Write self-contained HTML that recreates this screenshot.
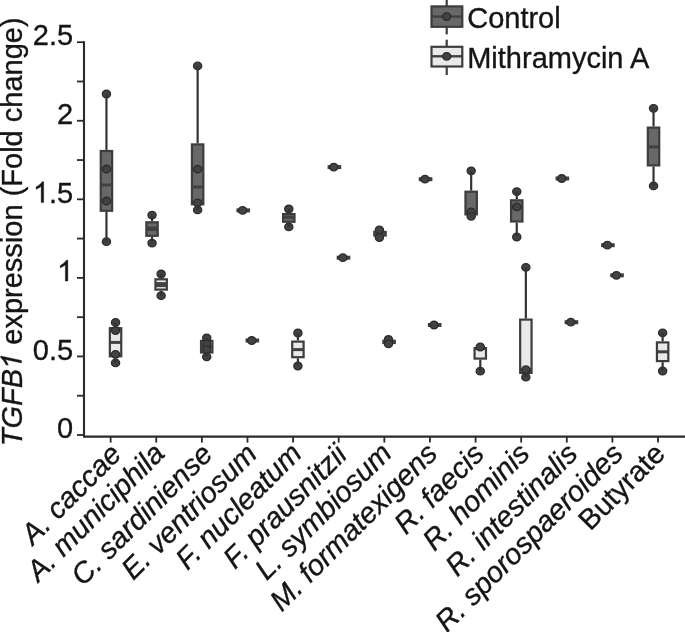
<!DOCTYPE html>
<html><head><meta charset="utf-8"><style>
html,body{margin:0;padding:0;background:#fff;}
svg{display:block;filter:blur(0.35px);}
text{font-family:"Liberation Sans",sans-serif;font-size:29px;fill:#151515;stroke:#151515;stroke-width:0.35px;}
</style></head><body>
<svg width="685" height="632" viewBox="0 0 685 632">
<rect width="685" height="632" fill="#fff"/>
<line x1="84" y1="41.2" x2="84" y2="436" stroke="#2a2a2a" stroke-width="2.1"/>
<line x1="83" y1="436.6" x2="685" y2="436.6" stroke="#2a2a2a" stroke-width="2.1"/>
<line x1="77" y1="435" x2="84" y2="435" stroke="#2a2a2a" stroke-width="1.8"/>
<line x1="77" y1="395.72" x2="84" y2="395.72" stroke="#2a2a2a" stroke-width="1.8"/>
<line x1="77" y1="356.44" x2="84" y2="356.44" stroke="#2a2a2a" stroke-width="1.8"/>
<line x1="77" y1="317.16" x2="84" y2="317.16" stroke="#2a2a2a" stroke-width="1.8"/>
<line x1="77" y1="277.88" x2="84" y2="277.88" stroke="#2a2a2a" stroke-width="1.8"/>
<line x1="77" y1="238.6" x2="84" y2="238.6" stroke="#2a2a2a" stroke-width="1.8"/>
<line x1="77" y1="199.32" x2="84" y2="199.32" stroke="#2a2a2a" stroke-width="1.8"/>
<line x1="77" y1="160.04" x2="84" y2="160.04" stroke="#2a2a2a" stroke-width="1.8"/>
<line x1="77" y1="120.76" x2="84" y2="120.76" stroke="#2a2a2a" stroke-width="1.8"/>
<line x1="77" y1="81.48" x2="84" y2="81.48" stroke="#2a2a2a" stroke-width="1.8"/>
<line x1="77" y1="42.2" x2="84" y2="42.2" stroke="#2a2a2a" stroke-width="1.8"/>
<line x1="110.64" y1="436.6" x2="110.64" y2="442.6" stroke="#2a2a2a" stroke-width="1.8"/>
<line x1="156.26" y1="436.6" x2="156.26" y2="442.6" stroke="#2a2a2a" stroke-width="1.8"/>
<line x1="201.87" y1="436.6" x2="201.87" y2="442.6" stroke="#2a2a2a" stroke-width="1.8"/>
<line x1="247.49" y1="436.6" x2="247.49" y2="442.6" stroke="#2a2a2a" stroke-width="1.8"/>
<line x1="293.1" y1="436.6" x2="293.1" y2="442.6" stroke="#2a2a2a" stroke-width="1.8"/>
<line x1="338.72" y1="436.6" x2="338.72" y2="442.6" stroke="#2a2a2a" stroke-width="1.8"/>
<line x1="384.34" y1="436.6" x2="384.34" y2="442.6" stroke="#2a2a2a" stroke-width="1.8"/>
<line x1="429.95" y1="436.6" x2="429.95" y2="442.6" stroke="#2a2a2a" stroke-width="1.8"/>
<line x1="475.57" y1="436.6" x2="475.57" y2="442.6" stroke="#2a2a2a" stroke-width="1.8"/>
<line x1="521.18" y1="436.6" x2="521.18" y2="442.6" stroke="#2a2a2a" stroke-width="1.8"/>
<line x1="566.8" y1="436.6" x2="566.8" y2="442.6" stroke="#2a2a2a" stroke-width="1.8"/>
<line x1="612.42" y1="436.6" x2="612.42" y2="442.6" stroke="#2a2a2a" stroke-width="1.8"/>
<line x1="658.03" y1="436.6" x2="658.03" y2="442.6" stroke="#2a2a2a" stroke-width="1.8"/>
<rect x="100.75" y="151" width="11.4" height="59.8" fill="#686868" stroke="#3d3d3d" stroke-width="2.2"/>
<line x1="100.75" y1="185" x2="112.15" y2="185" stroke="#414141" stroke-width="3"/>
<ellipse cx="106.45" cy="94" rx="4.1" ry="3.75" fill="#424242" stroke="#2c2c2c" stroke-width="1.3"/>
<ellipse cx="106.45" cy="169" rx="4.1" ry="3.75" fill="#424242" stroke="#2c2c2c" stroke-width="1.3"/>
<ellipse cx="106.45" cy="201" rx="4.1" ry="3.75" fill="#424242" stroke="#2c2c2c" stroke-width="1.3"/>
<ellipse cx="106.45" cy="241.7" rx="4.1" ry="3.75" fill="#424242" stroke="#2c2c2c" stroke-width="1.3"/>
<line x1="106.45" y1="94" x2="106.45" y2="149.9" stroke="#333333" stroke-width="2.2"/>
<line x1="106.45" y1="211.9" x2="106.45" y2="241.7" stroke="#333333" stroke-width="2.2"/>
<rect x="109.85" y="328.2" width="11.4" height="28.1" fill="#e9e9e9" stroke="#3d3d3d" stroke-width="2.2"/>
<line x1="109.85" y1="342.4" x2="121.25" y2="342.4" stroke="#414141" stroke-width="3"/>
<ellipse cx="115.55" cy="322.4" rx="4.1" ry="3.75" fill="#424242" stroke="#2c2c2c" stroke-width="1.3"/>
<ellipse cx="115.55" cy="330.5" rx="4.1" ry="3.75" fill="#424242" stroke="#2c2c2c" stroke-width="1.3"/>
<ellipse cx="115.55" cy="354.3" rx="4.1" ry="3.75" fill="#424242" stroke="#2c2c2c" stroke-width="1.3"/>
<ellipse cx="115.55" cy="362.9" rx="4.1" ry="3.75" fill="#424242" stroke="#2c2c2c" stroke-width="1.3"/>
<line x1="115.55" y1="322.4" x2="115.55" y2="327.1" stroke="#333333" stroke-width="2.2"/>
<line x1="115.55" y1="357.4" x2="115.55" y2="362.9" stroke="#333333" stroke-width="2.2"/>
<rect x="146.34" y="222.3" width="11.4" height="13.5" fill="#686868" stroke="#3d3d3d" stroke-width="2.2"/>
<line x1="146.34" y1="228.8" x2="157.74" y2="228.8" stroke="#414141" stroke-width="4.5"/>
<ellipse cx="152.04" cy="215.1" rx="4.1" ry="3.75" fill="#424242" stroke="#2c2c2c" stroke-width="1.3"/>
<ellipse cx="152.04" cy="243.1" rx="4.1" ry="3.75" fill="#424242" stroke="#2c2c2c" stroke-width="1.3"/>
<line x1="152.04" y1="215.1" x2="152.04" y2="221.2" stroke="#333333" stroke-width="2.2"/>
<line x1="152.04" y1="236.9" x2="152.04" y2="243.1" stroke="#333333" stroke-width="2.2"/>
<rect x="155.44" y="279.3" width="11.4" height="10.3" fill="#e9e9e9" stroke="#3d3d3d" stroke-width="2.2"/>
<line x1="155.44" y1="284.6" x2="166.84" y2="284.6" stroke="#414141" stroke-width="5"/>
<ellipse cx="161.14" cy="274" rx="4.1" ry="3.75" fill="#424242" stroke="#2c2c2c" stroke-width="1.3"/>
<ellipse cx="161.14" cy="295.7" rx="4.1" ry="3.75" fill="#424242" stroke="#2c2c2c" stroke-width="1.3"/>
<line x1="161.14" y1="274" x2="161.14" y2="278.2" stroke="#333333" stroke-width="2.2"/>
<line x1="161.14" y1="290.7" x2="161.14" y2="295.7" stroke="#333333" stroke-width="2.2"/>
<rect x="191.93" y="144.4" width="11.4" height="59.9" fill="#686868" stroke="#3d3d3d" stroke-width="2.2"/>
<line x1="191.93" y1="187" x2="203.33" y2="187" stroke="#414141" stroke-width="3"/>
<ellipse cx="197.63" cy="65.9" rx="4.1" ry="3.75" fill="#424242" stroke="#2c2c2c" stroke-width="1.3"/>
<ellipse cx="197.63" cy="169.2" rx="4.1" ry="3.75" fill="#424242" stroke="#2c2c2c" stroke-width="1.3"/>
<ellipse cx="197.63" cy="202.8" rx="4.1" ry="3.75" fill="#424242" stroke="#2c2c2c" stroke-width="1.3"/>
<ellipse cx="197.63" cy="209.9" rx="4.1" ry="3.75" fill="#424242" stroke="#2c2c2c" stroke-width="1.3"/>
<line x1="197.63" y1="65.9" x2="197.63" y2="143.3" stroke="#333333" stroke-width="2.2"/>
<line x1="197.63" y1="205.4" x2="197.63" y2="209.9" stroke="#333333" stroke-width="2.2"/>
<rect x="201.03" y="340.9" width="11.4" height="11.6" fill="#e9e9e9" stroke="#3d3d3d" stroke-width="2.2"/>
<line x1="201.03" y1="346.9" x2="212.43" y2="346.9" stroke="#414141" stroke-width="3"/>
<ellipse cx="206.73" cy="338" rx="4.1" ry="3.75" fill="#424242" stroke="#2c2c2c" stroke-width="1.3"/>
<ellipse cx="206.73" cy="343.8" rx="4.1" ry="3.75" fill="#424242" stroke="#2c2c2c" stroke-width="1.3"/>
<ellipse cx="206.73" cy="349.7" rx="4.1" ry="3.75" fill="#424242" stroke="#2c2c2c" stroke-width="1.3"/>
<ellipse cx="206.73" cy="356.8" rx="4.1" ry="3.75" fill="#424242" stroke="#2c2c2c" stroke-width="1.3"/>
<line x1="206.73" y1="338" x2="206.73" y2="339.8" stroke="#333333" stroke-width="2.2"/>
<line x1="206.73" y1="353.6" x2="206.73" y2="356.8" stroke="#333333" stroke-width="2.2"/>
<rect x="237.52" y="209.5" width="11.4" height="1.8" fill="#686868" stroke="#3d3d3d" stroke-width="2.2"/>
<line x1="237.52" y1="210.4" x2="248.92" y2="210.4" stroke="#414141" stroke-width="2"/>
<ellipse cx="242.62" cy="210.4" rx="4.1" ry="3.75" fill="#424242" stroke="#2c2c2c" stroke-width="1.3"/>
<rect x="246.62" y="339.6" width="11.4" height="1.8" fill="#e9e9e9" stroke="#3d3d3d" stroke-width="2.2"/>
<line x1="246.62" y1="340.5" x2="258.02" y2="340.5" stroke="#414141" stroke-width="2"/>
<ellipse cx="251.72" cy="340.5" rx="4.1" ry="3.75" fill="#424242" stroke="#2c2c2c" stroke-width="1.3"/>
<rect x="283.11" y="214.1" width="11.4" height="7.7" fill="#686868" stroke="#3d3d3d" stroke-width="2.2"/>
<line x1="283.11" y1="217.3" x2="294.51" y2="217.3" stroke="#414141" stroke-width="3"/>
<ellipse cx="288.81" cy="209" rx="4.1" ry="3.75" fill="#424242" stroke="#2c2c2c" stroke-width="1.3"/>
<ellipse cx="288.81" cy="226.9" rx="4.1" ry="3.75" fill="#424242" stroke="#2c2c2c" stroke-width="1.3"/>
<line x1="288.81" y1="209" x2="288.81" y2="213" stroke="#333333" stroke-width="2.2"/>
<line x1="288.81" y1="222.9" x2="288.81" y2="226.9" stroke="#333333" stroke-width="2.2"/>
<rect x="292.21" y="341.6" width="11.4" height="15.6" fill="#e9e9e9" stroke="#3d3d3d" stroke-width="2.2"/>
<line x1="292.21" y1="349.6" x2="303.61" y2="349.6" stroke="#414141" stroke-width="3"/>
<ellipse cx="297.91" cy="333" rx="4.1" ry="3.75" fill="#424242" stroke="#2c2c2c" stroke-width="1.3"/>
<ellipse cx="297.91" cy="366" rx="4.1" ry="3.75" fill="#424242" stroke="#2c2c2c" stroke-width="1.3"/>
<line x1="297.91" y1="333" x2="297.91" y2="340.5" stroke="#333333" stroke-width="2.2"/>
<line x1="297.91" y1="358.3" x2="297.91" y2="366" stroke="#333333" stroke-width="2.2"/>
<rect x="328.7" y="166.2" width="11.4" height="1.8" fill="#686868" stroke="#3d3d3d" stroke-width="2.2"/>
<line x1="328.7" y1="167.1" x2="340.1" y2="167.1" stroke="#414141" stroke-width="2"/>
<ellipse cx="333.8" cy="167.1" rx="4.1" ry="3.75" fill="#424242" stroke="#2c2c2c" stroke-width="1.3"/>
<rect x="337.8" y="256.8" width="11.4" height="1.8" fill="#e9e9e9" stroke="#3d3d3d" stroke-width="2.2"/>
<line x1="337.8" y1="257.7" x2="349.2" y2="257.7" stroke="#414141" stroke-width="2"/>
<ellipse cx="342.9" cy="257.7" rx="4.1" ry="3.75" fill="#424242" stroke="#2c2c2c" stroke-width="1.3"/>
<rect x="374.29" y="231.9" width="11.4" height="3.6" fill="#686868" stroke="#3d3d3d" stroke-width="2.2"/>
<line x1="374.29" y1="233.7" x2="385.69" y2="233.7" stroke="#414141" stroke-width="2"/>
<ellipse cx="379.39" cy="229.8" rx="4.1" ry="3.75" fill="#424242" stroke="#2c2c2c" stroke-width="1.3"/>
<ellipse cx="379.39" cy="237.6" rx="4.1" ry="3.75" fill="#424242" stroke="#2c2c2c" stroke-width="1.3"/>
<rect x="383.39" y="340.8" width="11.4" height="2.2" fill="#e9e9e9" stroke="#3d3d3d" stroke-width="2.2"/>
<line x1="383.39" y1="341.9" x2="394.79" y2="341.9" stroke="#414141" stroke-width="2"/>
<ellipse cx="388.49" cy="339.5" rx="4.1" ry="3.75" fill="#424242" stroke="#2c2c2c" stroke-width="1.3"/>
<ellipse cx="388.49" cy="343.8" rx="4.1" ry="3.75" fill="#424242" stroke="#2c2c2c" stroke-width="1.3"/>
<rect x="419.88" y="178.3" width="11.4" height="1.8" fill="#686868" stroke="#3d3d3d" stroke-width="2.2"/>
<line x1="419.88" y1="179.2" x2="431.28" y2="179.2" stroke="#414141" stroke-width="2"/>
<ellipse cx="424.98" cy="179.2" rx="4.1" ry="3.75" fill="#424242" stroke="#2c2c2c" stroke-width="1.3"/>
<rect x="428.98" y="324.1" width="11.4" height="1.8" fill="#e9e9e9" stroke="#3d3d3d" stroke-width="2.2"/>
<line x1="428.98" y1="325" x2="440.38" y2="325" stroke="#414141" stroke-width="2"/>
<ellipse cx="434.08" cy="325" rx="4.1" ry="3.75" fill="#424242" stroke="#2c2c2c" stroke-width="1.3"/>
<rect x="465.47" y="191.7" width="11.4" height="22.7" fill="#686868" stroke="#3d3d3d" stroke-width="2.2"/>
<line x1="465.47" y1="212" x2="476.87" y2="212" stroke="#414141" stroke-width="3"/>
<ellipse cx="471.17" cy="170.8" rx="4.1" ry="3.75" fill="#424242" stroke="#2c2c2c" stroke-width="1.3"/>
<ellipse cx="471.17" cy="211.9" rx="4.1" ry="3.75" fill="#424242" stroke="#2c2c2c" stroke-width="1.3"/>
<ellipse cx="471.17" cy="216.3" rx="4.1" ry="3.75" fill="#424242" stroke="#2c2c2c" stroke-width="1.3"/>
<line x1="471.17" y1="170.8" x2="471.17" y2="190.6" stroke="#333333" stroke-width="2.2"/>
<line x1="471.17" y1="215.5" x2="471.17" y2="216.3" stroke="#333333" stroke-width="2.2"/>
<rect x="474.57" y="348.1" width="11.4" height="10.5" fill="#e9e9e9" stroke="#3d3d3d" stroke-width="2.2"/>
<line x1="474.57" y1="348.5" x2="485.97" y2="348.5" stroke="#414141" stroke-width="3"/>
<ellipse cx="480.27" cy="347" rx="4.1" ry="3.75" fill="#424242" stroke="#2c2c2c" stroke-width="1.3"/>
<ellipse cx="480.27" cy="371.2" rx="4.1" ry="3.75" fill="#424242" stroke="#2c2c2c" stroke-width="1.3"/>
<line x1="480.27" y1="359.7" x2="480.27" y2="371.2" stroke="#333333" stroke-width="2.2"/>
<rect x="511.06" y="200.3" width="11.4" height="21.2" fill="#686868" stroke="#3d3d3d" stroke-width="2.2"/>
<line x1="511.06" y1="206.9" x2="522.46" y2="206.9" stroke="#414141" stroke-width="3"/>
<ellipse cx="516.76" cy="191.6" rx="4.1" ry="3.75" fill="#424242" stroke="#2c2c2c" stroke-width="1.3"/>
<ellipse cx="516.76" cy="206.9" rx="4.1" ry="3.75" fill="#424242" stroke="#2c2c2c" stroke-width="1.3"/>
<ellipse cx="516.76" cy="237" rx="4.1" ry="3.75" fill="#424242" stroke="#2c2c2c" stroke-width="1.3"/>
<line x1="516.76" y1="191.6" x2="516.76" y2="199.2" stroke="#333333" stroke-width="2.2"/>
<line x1="516.76" y1="222.6" x2="516.76" y2="237" stroke="#333333" stroke-width="2.2"/>
<rect x="520.16" y="319.6" width="11.4" height="53.3" fill="#e9e9e9" stroke="#3d3d3d" stroke-width="2.2"/>
<line x1="520.16" y1="370" x2="531.56" y2="370" stroke="#414141" stroke-width="3"/>
<ellipse cx="525.86" cy="267.3" rx="4.1" ry="3.75" fill="#424242" stroke="#2c2c2c" stroke-width="1.3"/>
<ellipse cx="525.86" cy="369.7" rx="4.1" ry="3.75" fill="#424242" stroke="#2c2c2c" stroke-width="1.3"/>
<ellipse cx="525.86" cy="377.2" rx="4.1" ry="3.75" fill="#424242" stroke="#2c2c2c" stroke-width="1.3"/>
<line x1="525.86" y1="267.3" x2="525.86" y2="318.5" stroke="#333333" stroke-width="2.2"/>
<line x1="525.86" y1="374" x2="525.86" y2="377.2" stroke="#333333" stroke-width="2.2"/>
<rect x="556.65" y="177.6" width="11.4" height="1.8" fill="#686868" stroke="#3d3d3d" stroke-width="2.2"/>
<line x1="556.65" y1="178.5" x2="568.05" y2="178.5" stroke="#414141" stroke-width="2"/>
<ellipse cx="561.75" cy="178.5" rx="4.1" ry="3.75" fill="#424242" stroke="#2c2c2c" stroke-width="1.3"/>
<rect x="565.75" y="321.3" width="11.4" height="1.8" fill="#e9e9e9" stroke="#3d3d3d" stroke-width="2.2"/>
<line x1="565.75" y1="322.2" x2="577.15" y2="322.2" stroke="#414141" stroke-width="2"/>
<ellipse cx="570.85" cy="322.2" rx="4.1" ry="3.75" fill="#424242" stroke="#2c2c2c" stroke-width="1.3"/>
<rect x="602.24" y="244.3" width="11.4" height="1.8" fill="#686868" stroke="#3d3d3d" stroke-width="2.2"/>
<line x1="602.24" y1="245.2" x2="613.64" y2="245.2" stroke="#414141" stroke-width="2"/>
<ellipse cx="607.34" cy="245.2" rx="4.1" ry="3.75" fill="#424242" stroke="#2c2c2c" stroke-width="1.3"/>
<rect x="611.34" y="274.4" width="11.4" height="1.8" fill="#e9e9e9" stroke="#3d3d3d" stroke-width="2.2"/>
<line x1="611.34" y1="275.3" x2="622.74" y2="275.3" stroke="#414141" stroke-width="2"/>
<ellipse cx="616.44" cy="275.3" rx="4.1" ry="3.75" fill="#424242" stroke="#2c2c2c" stroke-width="1.3"/>
<rect x="647.83" y="127.6" width="11.4" height="37.8" fill="#686868" stroke="#3d3d3d" stroke-width="2.2"/>
<line x1="647.83" y1="146.9" x2="659.23" y2="146.9" stroke="#414141" stroke-width="3"/>
<ellipse cx="653.53" cy="108.3" rx="4.1" ry="3.75" fill="#424242" stroke="#2c2c2c" stroke-width="1.3"/>
<ellipse cx="653.53" cy="185.9" rx="4.1" ry="3.75" fill="#424242" stroke="#2c2c2c" stroke-width="1.3"/>
<line x1="653.53" y1="108.3" x2="653.53" y2="126.5" stroke="#333333" stroke-width="2.2"/>
<line x1="653.53" y1="166.5" x2="653.53" y2="185.9" stroke="#333333" stroke-width="2.2"/>
<rect x="656.93" y="342.4" width="11.4" height="18.7" fill="#e9e9e9" stroke="#3d3d3d" stroke-width="2.2"/>
<line x1="656.93" y1="351.8" x2="668.33" y2="351.8" stroke="#414141" stroke-width="3"/>
<ellipse cx="662.63" cy="332.8" rx="4.1" ry="3.75" fill="#424242" stroke="#2c2c2c" stroke-width="1.3"/>
<ellipse cx="662.63" cy="371" rx="4.1" ry="3.75" fill="#424242" stroke="#2c2c2c" stroke-width="1.3"/>
<line x1="662.63" y1="332.8" x2="662.63" y2="341.3" stroke="#333333" stroke-width="2.2"/>
<line x1="662.63" y1="362.2" x2="662.63" y2="371" stroke="#333333" stroke-width="2.2"/>
<text x="73.2" y="438.2" text-anchor="end">0</text>
<text x="73.2" y="359.64" text-anchor="end">0.5</text>
<path d="M763 0L583 0L583 1147Q518 1085 412 1023Q306 961 223 930L223 1104Q371 1174 483 1274Q595 1374 646 1472L763 1472Z" transform="translate(57.07 281.08) scale(0.014160 -0.014160)" fill="#151515" stroke="#151515" stroke-width="24.7"/>
<path d="M763 0L583 0L583 1147Q518 1085 412 1023Q306 961 223 930L223 1104Q371 1174 483 1274Q595 1374 646 1472L763 1472Z" transform="translate(32.89 202.52) scale(0.014160 -0.014160)" fill="#151515" stroke="#151515" stroke-width="24.7"/>
<text x="49.01" y="202.52">.5</text>
<text x="73.2" y="123.96" text-anchor="end">2</text>
<text x="73.2" y="45.4" text-anchor="end">2.5</text>
<text x="123" y="455.9" text-anchor="end" transform="rotate(-45 123 455.9)"><tspan font-style="italic">A. caccae</tspan></text>
<text x="166.19" y="455.2" text-anchor="end" transform="rotate(-45 166.19 455.2)"><tspan font-style="italic">A. municiphila</tspan></text>
<text x="214.18" y="455.9" text-anchor="end" transform="rotate(-45 214.18 455.9)"><tspan font-style="italic">C. sardiniense</tspan></text>
<text x="258.57" y="455.6" text-anchor="end" transform="rotate(-45 258.57 455.6)"><tspan font-style="italic">E. ventriosum</tspan></text>
<text x="303.36" y="455.2" text-anchor="end" transform="rotate(-45 303.36 455.2)"><tspan font-style="italic">F. nucleatum</tspan></text>
<text x="348.55" y="456.4" text-anchor="end" transform="rotate(-45 348.55 456.4)"><tspan font-style="italic">F. prausnitzii</tspan></text>
<text x="393.34" y="454.8" text-anchor="end" transform="rotate(-45 393.34 454.8)"><tspan font-style="italic">L. symbiosum</tspan></text>
<text x="438.93" y="455.2" text-anchor="end" transform="rotate(-45 438.93 455.2)"><tspan font-style="italic">M. formatexigens</tspan></text>
<text x="485.72" y="455.6" text-anchor="end" transform="rotate(-45 485.72 455.6)"><tspan font-style="italic">R. faecis</tspan></text>
<text x="531.31" y="455.2" text-anchor="end" transform="rotate(-45 531.31 455.2)"><tspan font-style="italic">R. hominis</tspan></text>
<text x="579.2" y="455.6" text-anchor="end" transform="rotate(-45 579.2 455.6)"><tspan font-style="italic">R. intestinalis</tspan></text>
<text x="624.79" y="455.4" text-anchor="end" transform="rotate(-45 624.79 455.4)"><tspan font-style="italic">R. sporospaeroides</tspan></text>
<text x="666.58" y="455.4" text-anchor="end" transform="rotate(-45 666.58 455.4)">Butyrate</text>

<line x1="446.7" y1="0" x2="446.7" y2="34.4" stroke="#3d3d3d" stroke-width="2.2"/>
<rect x="431.5" y="6.4" width="30.8" height="20.4" fill="#686868" stroke="#3d3d3d" stroke-width="2.2"/>
<line x1="431.5" y1="16.6" x2="462.3" y2="16.6" stroke="#414141" stroke-width="2.4"/>
<ellipse cx="446.7" cy="16.6" rx="4.1" ry="3.75" fill="#424242" stroke="#2c2c2c" stroke-width="1.3"/>
<line x1="446.7" y1="39.7" x2="446.7" y2="75" stroke="#3d3d3d" stroke-width="2.2"/>
<rect x="431.5" y="46.8" width="30.8" height="19.7" fill="#e9e9e9" stroke="#3d3d3d" stroke-width="2.2"/>
<line x1="431.5" y1="56.3" x2="462.3" y2="56.3" stroke="#414141" stroke-width="2.4"/>
<ellipse cx="446.7" cy="56.3" rx="4.1" ry="3.75" fill="#424242" stroke="#2c2c2c" stroke-width="1.3"/>
<text x="467.2" y="28">Control</text>
<text x="467.2" y="67.5">Mithramycin A</text>

<g transform="translate(21.5 446.2) rotate(-90)"><text x="0" y="0"><tspan font-style="italic">TGFB</tspan><tspan dx="16.13"> expression (Fold change)</tspan></text><path d="M763 0L583 0L583 1147Q518 1085 412 1023Q306 961 223 930L223 1104Q371 1174 483 1274Q595 1374 646 1472L763 1472Z" transform="translate(74.99 0) scale(0.014160 -0.014160) skewX(12)" fill="#151515" stroke="#151515" stroke-width="24.7"/></g>
</svg>
</body></html>
